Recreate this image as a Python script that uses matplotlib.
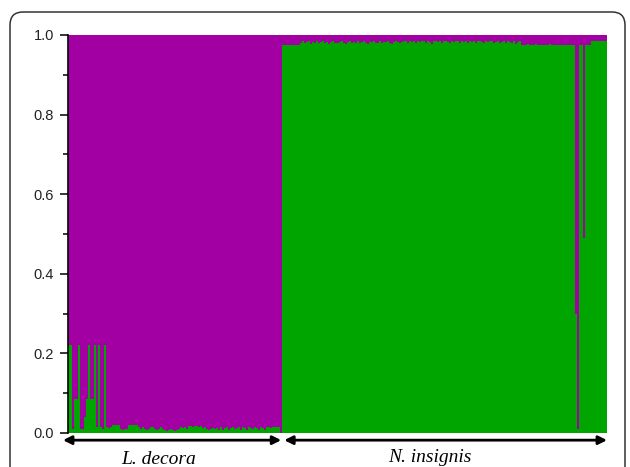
import matplotlib
matplotlib.use("Agg")
import matplotlib.pyplot as plt
from matplotlib.patches import FancyBboxPatch
from matplotlib.transforms import IdentityTransform, blended_transform_factory
from matplotlib.ticker import MultipleLocator, FormatStrFormatter

# proportion (%) of cluster 1 (green) per individual
decora_green = [22, 22, 1, 8.5, 8.5, 22, 1, 1, 4, 8.5, 22, 8.5, 8.5, 22, 1.5, 22, 1.5, 1, 22,
                1.5, 1.2, 1.5, 2, 2, 2, 2, 1, 0.8, 1, 1, 2, 2, 2, 2, 2,
                1.5, 1, 1.5, 1, 0.8, 1, 1.5, 1.5, 1, 0.8, 1, 1.5, 1,
                0.8, 0.6, 0.8, 1, 0.8, 0.6, 0.8, 1, 1.5, 1.2, 1.5, 1,
                1.8, 1.8, 1.5, 1.8, 1.8, 1.5, 1.8, 1.2, 1.5, 1, 0.8, 1, 1.2, 1,
                1.2, 0.8, 1.5, 0.7, 1.2, 1.5, 0.8, 1.2, 1.6, 0.9, 1.3, 1.5, 0.7, 1.4, 1.2, 0.8,
                1.5, 1.3, 0.9, 1.5, 1.2, 0.7, 1.5, 1.3, 0.8, 1.4, 1.5, 1.2, 1.5, 1.5, 1.5, 1.5,
                0]
insignis_green = [97.5, 97.5, 97.5, 97.5, 97.5, 97.5, 97.5, 97.5, 97.5,
                  98.1, 98.4, 97.9, 98.2, 98.4, 97.8, 98.3, 98.1, 98.4, 97.9,
                  98.2, 98.4, 98.0, 98.3, 97.8, 98.2, 98.4, 98.1, 97.9, 98.3,
                  98.4, 98.1, 97.8, 98.2, 98.4, 98.0, 98.3, 98.1, 98.4, 97.9,
                  98.2, 98.4, 98.1, 97.8, 98.3, 98.2, 98.4, 98.0, 98.1, 98.4,
                  97.9, 98.3, 98.2, 98.4, 98.1, 97.8, 98.3, 98.4, 98.2, 98.0,
                  98.3, 98.4, 98.4, 98.1, 98.4, 98.3, 98.4, 97.9, 98.4, 98.2,
                  98.4, 98.4, 98.1, 98.4, 98.3, 97.8, 98.4, 98.4, 98.2, 98.4,
                  98.1, 98.4, 98.4, 98.3, 97.9, 98.4, 98.2, 98.4, 98.4, 98.1,
                  98.4, 98.3, 98.4, 98.0, 98.4, 98.2, 98.4, 98.1, 98.4, 98.4,
                  98.3, 97.9, 98.4, 98.2, 98.4, 98.4, 98.1, 98.3, 98.4, 98.0,
                  98.2, 98.4, 97.9, 98.4, 98.3, 98.1, 98.4, 97.8, 98.2, 98.4,
                  97.6, 97.4, 97.6, 97.8, 97.4, 97.6, 97.6, 97.8, 97.4, 97.6,
                  97.6, 97.4, 97.6, 97.6, 97.8, 97.4, 97.6, 97.6, 97.4, 97.6,
                  97.6, 97.4, 97.6, 97.6, 97.4, 97.6, 97.6,
                  30, 1, 97.4, 97.4, 49, 97.4, 97.4, 97.4,
                  98.4, 98.4, 98.4, 98.4, 98.4, 98.4, 98.4, 98.4]
groups = ["L. decora", "N. insignis"]

green_c = "#00a500"
purple_c = "#a300a3"

vals = [v / 100 for v in decora_green + insignis_green]
x = list(range(len(vals)))
n1 = len(decora_green)
n = len(vals)

fig = plt.figure(figsize=(6.3, 4.67), dpi=100)
ax = fig.add_axes([68 / 630, 34 / 467, 539 / 630, 398 / 467])

ax.bar(x, vals, width=1, align="edge", color=green_c, linewidth=0, antialiased=False)
ax.bar(x, [1 - v for v in vals], bottom=vals, width=1, align="edge", color=purple_c,
       linewidth=0, antialiased=False)

ax.set_xlim(0, n)
ax.set_ylim(0, 1)
for s in ["top", "right", "bottom"]:
    ax.spines[s].set_visible(False)
ax.spines["left"].set_linewidth(1.2)
ax.set_xticks([])
ax.yaxis.set_major_locator(MultipleLocator(0.2))
ax.yaxis.set_minor_locator(MultipleLocator(0.1))
ax.yaxis.set_major_formatter(FormatStrFormatter("%.1f"))
ax.tick_params(axis="y", which="major", length=6, width=1.1, labelsize=10.5, pad=4)
ax.tick_params(axis="y", which="minor", length=3.5, width=1.1)
for lab in ax.get_yticklabels():
    lab.set_fontfamily("Liberation Sans")
    lab.set_color("#222222")

# group arrows and labels below the bars
tr = blended_transform_factory(ax.transData, ax.transAxes)
arrow = dict(arrowstyle="<|-|>,head_length=0.5,head_width=0.25", color="black", lw=2,
             shrinkA=0, shrinkB=0)
ax.annotate("", xy=(-2.5, -0.018), xytext=(n1 - 0.6, -0.018), xycoords=tr, textcoords=tr,
            arrowprops=arrow, annotation_clip=False)
ax.annotate("", xy=(n1 + 0.9, -0.018), xytext=(n, -0.018), xycoords=tr, textcoords=tr,
            arrowprops=arrow, annotation_clip=False)
ax.text(45.4, -0.079, groups[0], transform=tr, ha="center", va="baseline",
        fontsize=14, fontstyle="italic", fontfamily="Liberation Serif", clip_on=False)
ax.text(180.6, -0.073, groups[1], transform=tr, ha="center", va="baseline",
        fontsize=14, fontstyle="italic", fontfamily="Liberation Serif", clip_on=False)

# rounded frame around the panel
frame = FancyBboxPatch((10, -30), 615, 485, boxstyle="round,pad=0,rounding_size=13",
                       transform=IdentityTransform(), fill=False, edgecolor="#333333",
                       linewidth=1.1)
fig.patches.append(frame)

fig.savefig("out.png", dpi=100)
